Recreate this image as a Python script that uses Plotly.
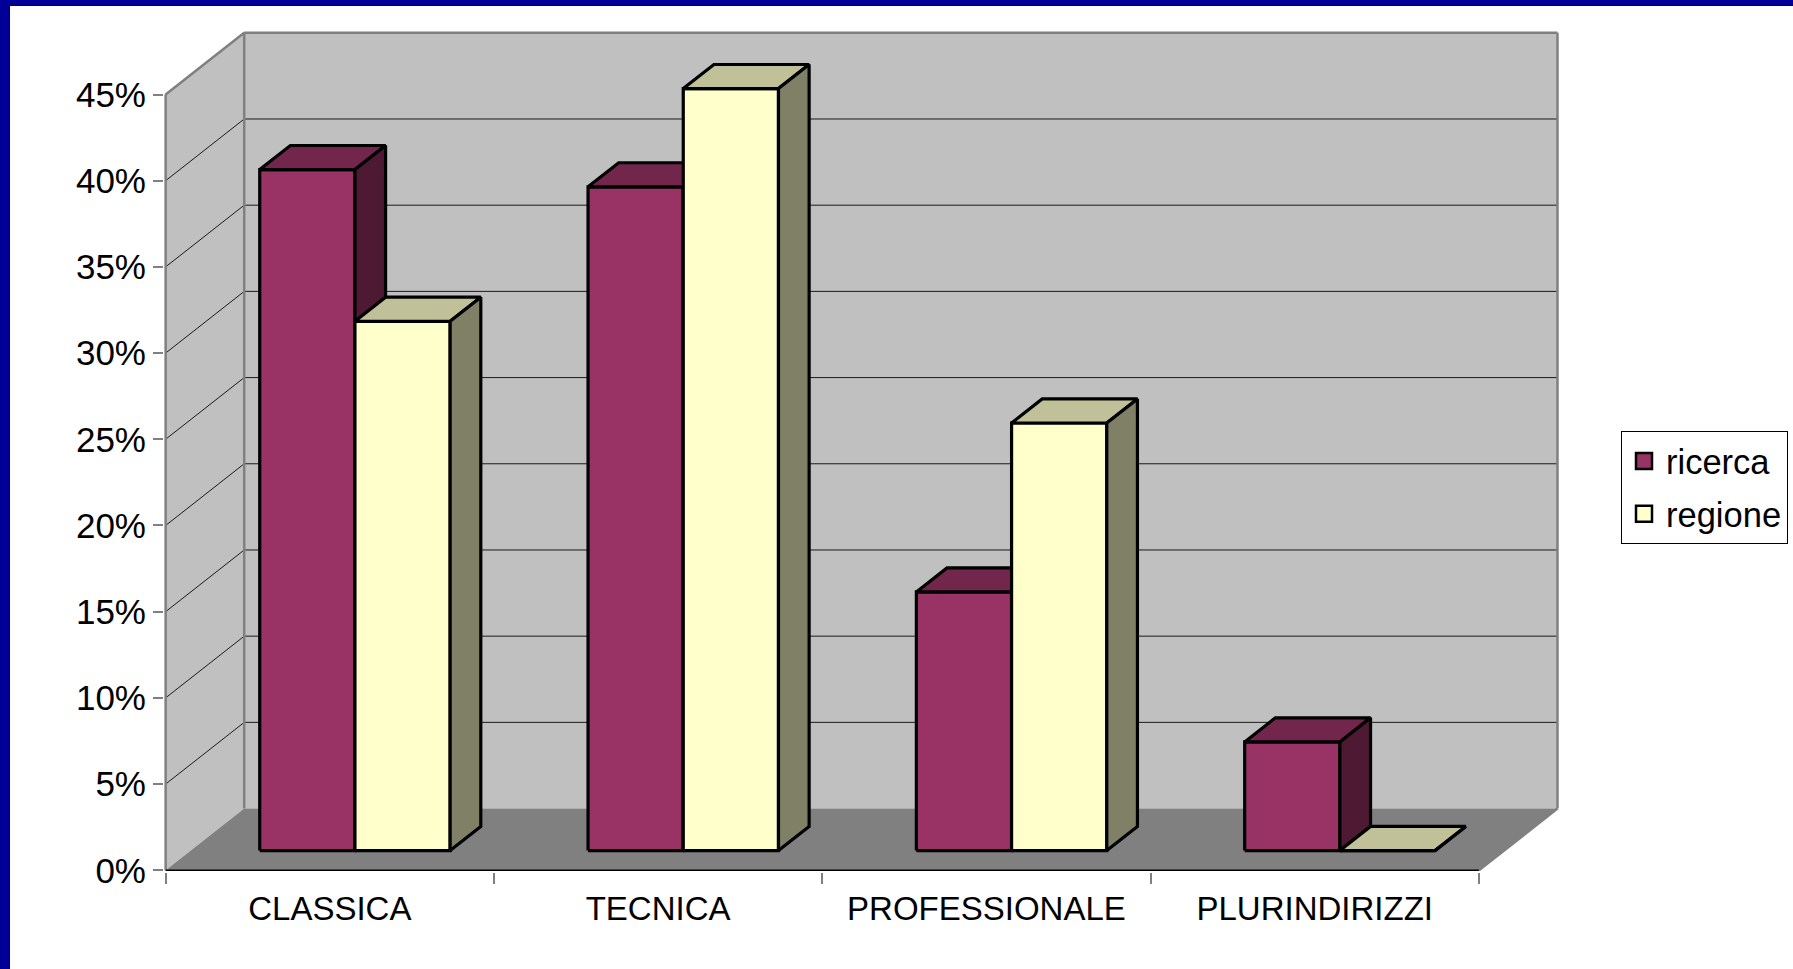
import plotly.graph_objects as go

# ---------------- data ----------------
categories = ["CLASSICA", "TECNICA", "PROFESSIONALE", "PLURINDIRIZZI"]
series_names = ["ricerca", "regione"]
ricerca = [39.5, 38.5, 15.0, 6.3]
regione = [30.7, 44.2, 24.8, 0.0]
y_tick_values = [0, 5, 10, 15, 20, 25, 30, 35, 40, 45]
y_tick_labels = ["0%", "5%", "10%", "15%", "20%", "25%", "30%", "35%", "40%", "45%"]

# ---------------- style / 3D projection ----------------
DX = 0.2393      # depth offset along x (category units)
DY = 3.58        # depth offset along y (% units)
Y_MAX = 45
GAP = 0.21       # gap before first bar in category
BAR_W = 0.29     # bar width (category units)
D0, D1 = 0.32, 0.71   # bar depth span (fraction of full depth)
FONT = "Liberation Sans, Arial, sans-serif"

front_cols = {"ricerca": "#993366", "regione": "#FFFFCC"}
top_cols = {"ricerca": "#72264C", "regione": "#C0C099"}
side_cols = {"ricerca": "#4D1933", "regione": "#808066"}

n_cat = len(categories)

fig = go.Figure()


def proj(x, y, d):
    return x + d * DX, y + d * DY


def add_poly(pts, fill, line_color, width):
    xs = [p[0] for p in pts] + [pts[0][0]]
    ys = [p[1] for p in pts] + [pts[0][1]]
    fig.add_trace(go.Scatter(
        x=xs, y=ys, mode="lines", fill="toself", fillcolor=fill,
        line=dict(color=line_color, width=width),
        hoverinfo="skip", showlegend=False))


def add_lines(segs, color, width):
    xs, ys = [], []
    for (a, b) in segs:
        xs += [a[0], b[0], None]
        ys += [a[1], b[1], None]
    fig.add_trace(go.Scatter(x=xs, y=ys, mode="lines",
                             line=dict(color=color, width=width),
                             hoverinfo="skip", showlegend=False))


# walls and floor
add_poly([(0, 0), (0, Y_MAX), proj(0, Y_MAX, 1), proj(0, 0, 1)], "#C0C0C0", "rgba(0,0,0,0)", 0)
add_poly([proj(0, 0, 1), proj(n_cat, 0, 1), proj(n_cat, Y_MAX, 1), proj(0, Y_MAX, 1)], "#C0C0C0", "rgba(0,0,0,0)", 0)
add_poly([(0, 0), (n_cat, 0), proj(n_cat, 0, 1), proj(0, 0, 1)], "#808080", "rgba(0,0,0,0)", 0)

# gridlines
grid = []
for v in y_tick_values[1:]:
    grid.append(((0, v), proj(0, v, 1)))
    if v < Y_MAX:
        grid.append((proj(0, v, 1), proj(n_cat, v, 1)))
add_lines(grid, "#1a1a1a", 1)

# wall edges
edges = [
    ((0, 0), (0, Y_MAX)),
    ((0, Y_MAX), proj(0, Y_MAX, 1)),
    (proj(0, Y_MAX, 1), proj(n_cat, Y_MAX, 1)),
    (proj(n_cat, Y_MAX, 1), proj(n_cat, 0, 1)),
    (proj(0, 0, 1), proj(0, Y_MAX, 1)),
    ((n_cat, 0), proj(n_cat, 0, 1)),
]
add_lines(edges, "#808080", 2.5)

# front x axis line
add_lines([((0, 0), (n_cat, 0))], "#000000", 1.5)

# bars
series_vals = {"ricerca": ricerca, "regione": regione}
for i in range(n_cat):
    for s, name in enumerate(series_names):
        v = series_vals[name][i]
        x0 = i + GAP + s * BAR_W
        x1 = x0 + BAR_W
        fbl = proj(x0, 0, D0); fbr = proj(x1, 0, D0)
        ftl = proj(x0, v, D0); ftr = proj(x1, v, D0)
        btl = proj(x0, v, D1); btr = proj(x1, v, D1)
        bbr = proj(x1, 0, D1)
        add_poly([fbl, fbr, ftr, ftl], front_cols[name], "#000000", 3.2)
        add_poly([ftl, ftr, btr, btl], top_cols[name], "#000000", 3.2)
        add_poly([fbr, ftr, btr, bbr], side_cols[name], "#000000", 3.2)

# legend entries
for name in series_names:
    fig.add_trace(go.Scatter(
        x=[None], y=[None], mode="markers", name=name, legendgroup=name,
        marker=dict(symbol="square", size=16, color=front_cols[name],
                    line=dict(color="#000000", width=2.5)),
        showlegend=True))

# ---------------- layout ----------------
W, H = 1793, 969
ML, MR, MT, MB = 164, 232, 29, 97
PW, PH = W - ML - MR, H - MT - MB


def px_x(p):
    return (p - ML) / PW


def px_y(p):
    return (H - MB - p) / PH


fig.update_layout(
    width=W, height=H,
    margin=dict(l=ML, r=MR, t=MT, b=MB, pad=0, autoexpand=False),
    paper_bgcolor="#FFFFFF", plot_bgcolor="#FFFFFF",
    font=dict(family=FONT, size=33, color="#000000"),
    showlegend=True,
    legend=dict(x=px_x(1621), y=px_y(431), xanchor="left", yanchor="top",
                bordercolor="#000000", borderwidth=1, bgcolor="#FFFFFF",
                font=dict(family=FONT, size=34.5, color="#000000"),
                tracegroupgap=5, traceorder="grouped",
                itemsizing="trace", itemwidth=34),
    xaxis=dict(range=[-0.005, 4.25], tickmode="array",
               tickvals=[i + 0.5 for i in range(n_cat)], ticktext=categories,
               ticks="", showgrid=False, zeroline=False, showline=False,
               tickfont=dict(family=FONT, size=33, color="#000000"),
               ticklabelstandoff=14,
               minor=dict(tickmode="array", tickvals=list(range(n_cat + 1)),
                          ticks="outside", ticklen=11, tickcolor="#808080",
                          tickwidth=2, showgrid=False),
               fixedrange=True),
    yaxis=dict(range=[-0.1, 48.8], tickmode="array",
               tickvals=y_tick_values, ticktext=y_tick_labels,
               ticks="outside", ticklen=10, tickcolor="#808080", tickwidth=2,
               showgrid=False, zeroline=False, showline=False,
               tickfont=dict(family=FONT, size=35, color="#000000"),
               ticklabelstandoff=0, fixedrange=True),
    shapes=[
        dict(type="rect", xref="paper", yref="paper",
             x0=px_x(0), x1=px_x(9), y0=px_y(H), y1=px_y(0),
             fillcolor="#000099", line=dict(width=0), layer="above"),
        dict(type="rect", xref="paper", yref="paper",
             x0=px_x(0), x1=px_x(W), y0=px_y(5), y1=px_y(0),
             fillcolor="#000099", line=dict(width=0), layer="above"),
        dict(type="line", xref="paper", yref="paper",
             x0=px_x(9.5), x1=px_x(9.5), y0=px_y(H), y1=px_y(5),
             line=dict(color="#000033", width=1), layer="above"),
        dict(type="line", xref="paper", yref="paper",
             x0=px_x(9), x1=px_x(W), y0=px_y(5.5), y1=px_y(5.5),
             line=dict(color="#000033", width=1), layer="above"),
    ],
)

fig.write_html("out.html", config={"displayModeBar": False},
               post_script="document.body.style.margin='0';document.body.style.overflow='hidden';")
